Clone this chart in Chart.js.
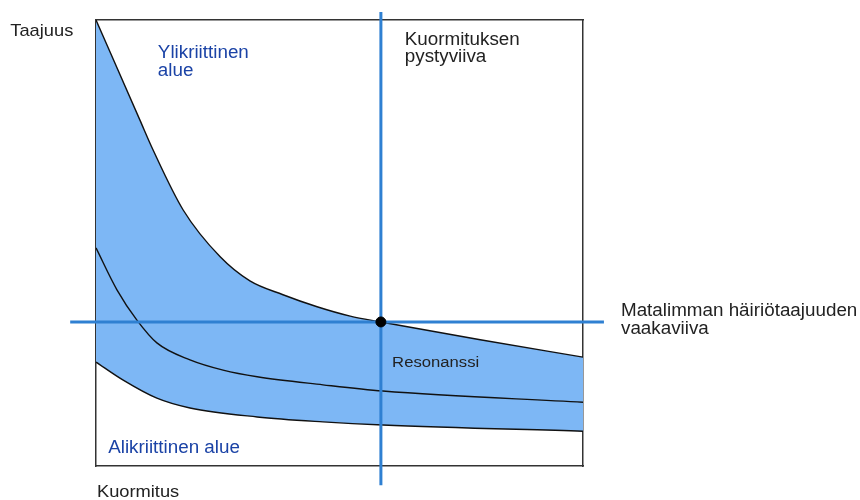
<!DOCTYPE html>
<html>
<head>
<meta charset="utf-8">
<script src="https://cdn.jsdelivr.net/npm/chart.js@4/dist/chart.umd.min.js"></script>
<style>
html,body{margin:0;padding:0;background:#fff;}
canvas{display:block;}
</style>
</head>
<body>
<canvas id="c" width="860" height="500"></canvas>
<script>
// Kuormitus (load) 0..100, Taajuus (frequency) 0..100
const upperX = [0, 9.0, 11.7, 17.9, 25.5, 31.6, 38.4, 45.4, 52.2, 58.5, 78.9, 100];
const upperY = [100, 77.6, 70.9, 57.4, 46.9, 41.5, 38.4, 35.7, 33.6, 32.3, 28.3, 24.4];
const middleX = [0, 4.3, 8.4, 12.5, 19.3, 26.1, 33.1, 46.6, 58.9, 100];
const middleY = [48.9, 39.5, 32.7, 27.6, 23.8, 21.5, 20.0, 18.2, 16.8, 14.3];
const lowerX = [0, 5.5, 12.5, 19.3, 33.1, 46.6, 58.9, 100];
const lowerY = [23.3, 19.3, 15.2, 13.0, 11.0, 9.9, 9.2, 7.8];
const resonanceLoad = 58.5;      // vertical line
const resonanceFreq = 32.3;      // horizontal line
const hLineX = [-5.3, 104.3];
const vLineY = [-4.3, 101.8];

const labels = {
  freq: ["Taajuus"],
  over: ["Ylikriittinen", "alue"],
  vert: ["Kuormituksen", "pystyviiva"],
  horiz: ["Matalimman häiriötaajuuden", "vaakaviiva"],
  res: ["Resonanssi"],
  under: ["Alikriittinen alue"],
  load: ["Kuormitus"]
};

const pts = (xs, ys) => xs.map((x, i) => ({x, y: ys[i]}));

const LINE_BLUE = '#2f80d2';
const TEXT_BLUE = '#1b43a6';
const TEXT_DARK = '#222';

const annotations = [
  {lines: labels.freq,  x: -17.6, y: 96.4, color: TEXT_DARK, size: 17},
  {lines: labels.over,  x: 12.7,  y: 91.4, color: TEXT_BLUE, size: 17.5},
  {lines: labels.vert,  x: 63.4,  y: 94.4, color: TEXT_DARK, size: 17.5},
  {lines: labels.horiz, x: 107.8, y: 33.6, color: TEXT_DARK, size: 17.5},
  {lines: labels.res,   x: 60.8,  y: 22.3, color: TEXT_DARK, size: 15.5},
  {lines: labels.under, x: 2.5,   y: 2.9,  color: TEXT_BLUE, size: 17.5},
  {lines: labels.load,  x: 0.2,   y: -7.0, color: TEXT_DARK, size: 17}
];
const TEXT_STRETCH = 1.075;

const textPlugin = {
  id: 'texts',
  afterDraw(chart) {
    const ctx = chart.ctx;
    const xs = chart.scales.x, ys = chart.scales.y;
    annotations.forEach(a => {
      const px = xs.getPixelForValue(a.x);
      const py = ys.getPixelForValue(a.y);
      a.lines.forEach((t, i) => {
        ctx.save();
        ctx.textBaseline = 'alphabetic';
        ctx.textAlign = 'left';
        ctx.fillStyle = a.color;
        ctx.font = a.size + 'px "Liberation Sans", Arial, sans-serif';
        ctx.translate(px, py + i * a.size);
        ctx.scale(TEXT_STRETCH, 1);
        ctx.fillText(t, 0, 0);
        ctx.restore();
      });
    });
  }
};

const axisBase = {
  type: 'linear',
  min: 0, max: 100,
  grid: {display: false, drawTicks: false},
  ticks: {display: false},
  border: {display: true, color: '#333', width: 1.5}
};

new Chart(document.getElementById('c'), {
  type: 'scatter',
  data: {
    datasets: [
      {data: [{x: resonanceLoad, y: resonanceFreq}], pointRadius: 5, pointBackgroundColor: '#000', pointBorderColor: '#000', showLine: false, clip: false},
      {data: [{x: resonanceLoad, y: vLineY[0]}, {x: resonanceLoad, y: vLineY[1]}], showLine: true, borderColor: LINE_BLUE, borderWidth: 3, pointRadius: 0, clip: false},
      {data: [{x: hLineX[0], y: resonanceFreq}, {x: hLineX[1], y: resonanceFreq}], showLine: true, borderColor: LINE_BLUE, borderWidth: 3, pointRadius: 0, clip: false},
      {data: pts(upperX, upperY), showLine: true, borderColor: '#111', borderWidth: 1.4, pointRadius: 0, cubicInterpolationMode: 'monotone', fill: '+2', backgroundColor: '#7db7f5'},
      {data: pts(middleX, middleY), showLine: true, borderColor: '#111', borderWidth: 1.4, pointRadius: 0, cubicInterpolationMode: 'monotone', fill: false},
      {data: pts(lowerX, lowerY), showLine: true, borderColor: '#111', borderWidth: 1.4, pointRadius: 0, cubicInterpolationMode: 'monotone', fill: false}
    ]
  },
  options: {
    responsive: false,
    animation: false,
    layout: {padding: {left: 96, top: 20, right: 277, bottom: 34}},
    plugins: {
      legend: {display: false},
      tooltip: {enabled: false},
      filler: {drawTime: 'beforeDatasetsDraw'}
    },
    scales: {
      x: Object.assign({}, axisBase, {position: 'bottom'}),
      y: Object.assign({}, axisBase, {position: 'left'}),
      x2: Object.assign({}, axisBase, {position: 'top'}),
      y2: Object.assign({}, axisBase, {position: 'right'})
    }
  },
  plugins: [textPlugin]
});
</script>
</body>
</html>
